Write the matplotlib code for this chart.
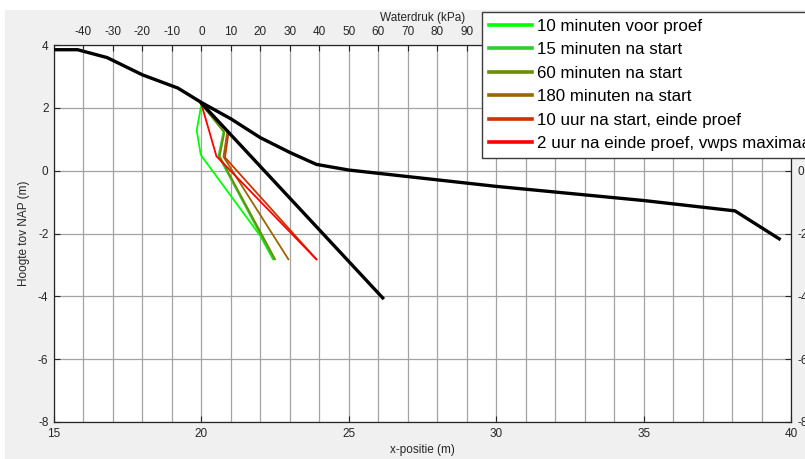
import matplotlib.pyplot as plt
from matplotlib.lines import Line2D
from matplotlib.patches import Rectangle

plt.rcParams['font.family'] = ['Liberation Sans', 'DejaVu Sans']
plt.rcParams['axes.unicode_minus'] = False

# freatische lijn (zwart, boven)
surf_x = [15.0, 15.8, 16.8, 18.0, 19.2, 20.0, 21.0, 22.0, 23.0, 23.9, 25.0, 30.0, 35.0, 38.1, 39.6]
surf_y = [3.85, 3.85, 3.6, 3.05, 2.63, 2.17, 1.65, 1.05, 0.58, 0.2, 0.02, -0.5, -0.95, -1.28, -2.17]

# rechte zwarte lijn
steep_x = [20.0, 26.15]
steep_y = [2.15, -4.05]

# waterdrukken
lime_x = [20.0, 19.84, 19.98, 22.0, 22.43]
lime_y = [2.12, 1.28, 0.5, -2.08, -2.82]
m15_x = [20.0, 20.75, 20.58, 22.45]
m15_y = [2.12, 1.25, 0.47, -2.82]
m60_x = [20.0, 20.78, 20.62, 22.5]
m60_y = [2.12, 1.22, 0.46, -2.82]
m180_x = [20.0, 20.88, 20.75, 22.95]
m180_y = [2.12, 1.25, 0.44, -2.82]
u10_x = [20.0, 20.92, 20.8, 23.9]
u10_y = [2.12, 1.22, 0.42, -2.82]
u2_x = [20.0, 20.51, 23.9]
u2_y = [2.12, 0.46, -2.82]

series_x = [lime_x, m15_x, m60_x, m180_x, u10_x, u2_x]
series_y = [lime_y, m15_y, m60_y, m180_y, u10_y, u2_y]
labels = ['10 minuten voor proef', '15 minuten na start', '60 minuten na start',
          '180 minuten na start', '10 uur na start, einde proef',
          '2 uur na einde proef, vwps maximaal']
colors = ['#00ff00', '#2ecc2e', '#6b8e00', '#996600', '#cc3300', '#ff0000']

fig = plt.figure(figsize=(8.05, 4.59), dpi=100, facecolor='white')
fig.add_artist(Rectangle((5 / 805, 0), 1, 449 / 459, transform=fig.transFigure,
                         color='#f0f0f0', zorder=-10))

pos = [54 / 805, 37 / 459, 737 / 805, 377 / 459]
ax = fig.add_axes(pos)
ax.set_facecolor('white')

grid_kw = dict(color='#a3a3a3', lw=0.9)
ax.set_xlim(15, 40)
ax.set_ylim(-8, 4)
ax.set_xticks(range(15, 41, 5))
ax.set_xticks(range(15, 41, 1), minor=True)
ax.set_yticks(range(-8, 5, 2))
ax.grid(which='both', axis='x', **grid_kw)
ax.grid(axis='y', **grid_kw)
ax.tick_params(which='major', direction='in', length=4, labelsize=8.5,
               colors='#262626', pad=4)
ax.tick_params(which='minor', length=0)
ax.set_xlabel('x-positie (m)', fontsize=8.5, color='#262626', labelpad=3)
ax.set_ylabel('Hoogte tov NAP (m)', fontsize=8.5, color='#262626', labelpad=6)
for s in ax.spines.values():
    s.set_color('#262626')
    s.set_linewidth(0.9)

ax.plot(surf_x, surf_y, color='black', lw=2.4, zorder=4)
ax.plot(steep_x, steep_y, color='black', lw=2.4, zorder=4)
for xs, ys, c in zip(series_x, series_y, colors):
    ax.plot(xs, ys, color=c, lw=1.3, zorder=3)

# tweede as: waterdruk boven, hoogte rechts
ax2 = fig.add_axes(pos, frameon=False)
ax2.set_xlim(-50, 200)
ax2.set_ylim(-8, 4)
ax2.xaxis.tick_top()
ax2.yaxis.tick_right()
ax2.xaxis.set_label_position('top')
ax2.set_xticks(range(-40, 200, 10))
ax2.set_yticks(range(-8, 5, 2))
ax2.tick_params(direction='in', length=4, labelsize=8.5, colors='#262626', pad=5)
ax2.set_xlabel('Waterdruk (kPa)', fontsize=8.5, color='#262626', labelpad=4)
ax2.patch.set_visible(False)

handles = [Line2D([], [], color=c, lw=2.6) for c in colors]
fig.legend(handles, labels, loc='upper left', bbox_to_anchor=(482 / 805, 1 - 12 / 459),
           fontsize=12.2, frameon=True, fancybox=False, edgecolor='#3c3c3c',
           framealpha=1, borderaxespad=0, handlelength=2.55, handletextpad=0.3,
           labelspacing=0.5, borderpad=0.4)

fig.savefig('out.png', dpi=100)
